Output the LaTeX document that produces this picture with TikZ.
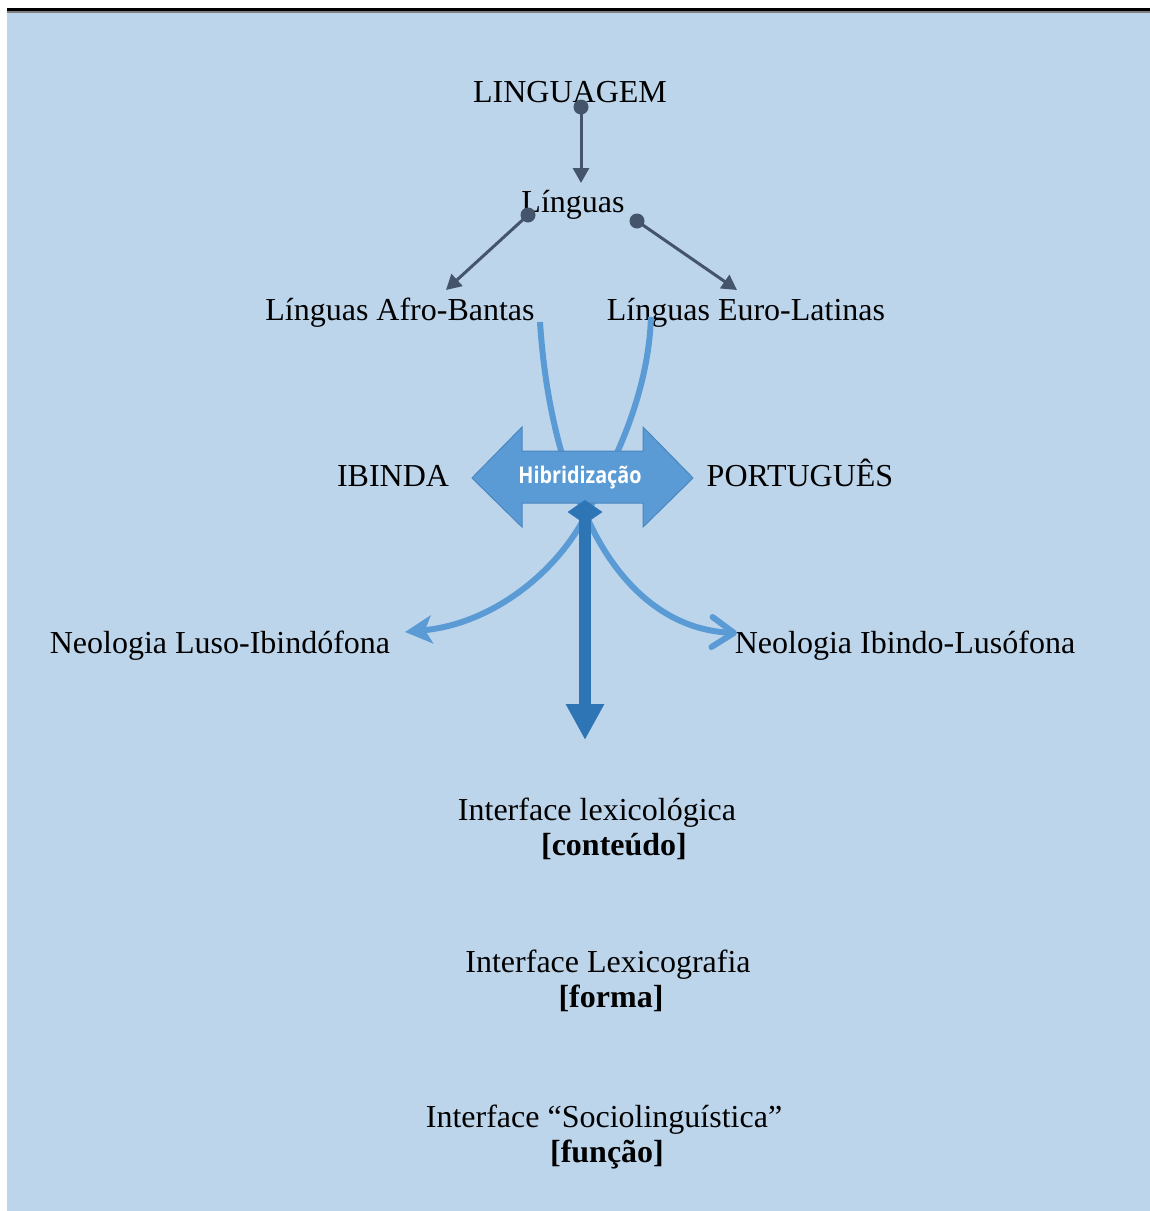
\documentclass[tikz,border=0pt]{standalone}
\usepackage{fontspec}
\usepackage{graphicx}
\setmainfont{Liberation Serif}
\newfontfamily\hibfont{Open Sans}
\usetikzlibrary{arrows.meta}
\definecolor{bg}{HTML}{BDD5EB}
\definecolor{darkarr}{HTML}{44546A}
\definecolor{lightb}{HTML}{5B9BD5}
\definecolor{midb}{HTML}{2E75B6}
\definecolor{edgeb}{HTML}{4A86C0}
\begin{document}
\begin{tikzpicture}[x=1pt,y=-1pt,
  lbl/.style={font=\fontsize{32}{38}\selectfont, inner sep=0pt, anchor=base},
  darkconn/.style={draw=darkarr, line width=3pt, -{Triangle[length=15pt,width=16pt]}},
  dotmark/.style={fill=darkarr},
  lightconn/.style={draw=lightb, line width=6pt},
  hibarrow/.style={fill=lightb, draw=edgeb, line width=1pt},
  bigconn/.style={draw=midb, line width=12pt, {Diamond[length=24pt,width=35pt]}-{Triangle[length=36pt,width=36pt]}}
]
\useasboundingbox (0,0) rectangle (1150,1211);
\fill[white] (0,0) rectangle (1150,1211);
\fill[bg] (7,12) rectangle (1150,1211);
\fill[black] (7,8) rectangle (1150,11);
\fill[gray] (7,11) rectangle (1150,12.5);

% text nodes
\node[lbl] (ling) at (570,102) {LINGUAGEM};
\node[lbl] (lin) at (573,212) {Línguas};
\node[lbl] (afro) at (400,320) {Línguas Afro-Bantas};
\node[lbl] (euro) at (746,320) {Línguas Euro-Latinas};
\node[lbl] (ibinda) at (393,486) {IBINDA};
\node[lbl] (port) at (800,486) {PORTUGUÊS};
\node[lbl] (neoL) at (220,653) {Neologia Luso-Ibindófona};
\node[lbl] (neoR) at (905,653) {Neologia Ibindo-Lusófona};
\node[lbl] (lex1) at (597,820) {Interface lexicológica};
\node[lbl] (lex2) at (614,855) {\textbf{[conteúdo]}};
\node[lbl] (lexg1) at (608,972) {Interface Lexicografia};
\node[lbl] (lexg2) at (611,1007) {\textbf{[forma]}};
\node[lbl] (soc1) at (604,1127) {Interface “Sociolinguística”};
\node[lbl] (soc2) at (607,1162) {\textbf{[função]}};

% dark connectors
\coordinate (a0) at (581,107); \coordinate (a1) at (581,183);
\coordinate (b0) at (528,215); \coordinate (b1) at (446,290);
\coordinate (c0) at (637,221); \coordinate (c1) at (737,290);
\draw[darkconn] (a0) -- (a1);
\draw[darkconn] (b0) -- (b1);
\draw[darkconn] (c0) -- (c1);
\fill[dotmark] (a0) circle (7.5);
\fill[dotmark] (b0) circle (7.5);
\fill[dotmark] (c0) circle (7.5);

% light curved connectors
\coordinate (p1) at (540,322);
\coordinate (p2) at (651,317);
\coordinate (hub) at (586,515);
\coordinate (tipL) at (405,632);
\coordinate (tipR) at (737,633);
\draw[lightconn, -{Straight Barb[length=22pt,width=30pt,round]}]
  (p1) .. controls (545,400) and (562,470) .. (hub)
       .. controls (612,575) and (660,630) .. (tipR);
\draw[lightconn, -{Stealth[length=27pt,width=28pt,inset=7pt]}]
  (p2) .. controls (648,400) and (610,470) .. (hub)
       .. controls (555,575) and (490,624) .. (tipL);

% hybridisation double arrow
\draw[hibarrow] (472,478) -- (522,427) -- (522,451) -- (643,451) -- (643,427)
  -- (693,478) -- (643,527) -- (643,503) -- (522,503) -- (522,527) -- cycle;
\node[text=white, inner sep=0pt, font=\hibfont\bfseries\fontsize{23}{26}\selectfont] (hib) at (580,478) {\scalebox{0.86}[1]{Hibridização}};

% big vertical arrow
\coordinate (h0) at (585,500);
\coordinate (h1) at (585,740);
\draw[bigconn] (h0) -- (h1);
\end{tikzpicture}
\end{document}
